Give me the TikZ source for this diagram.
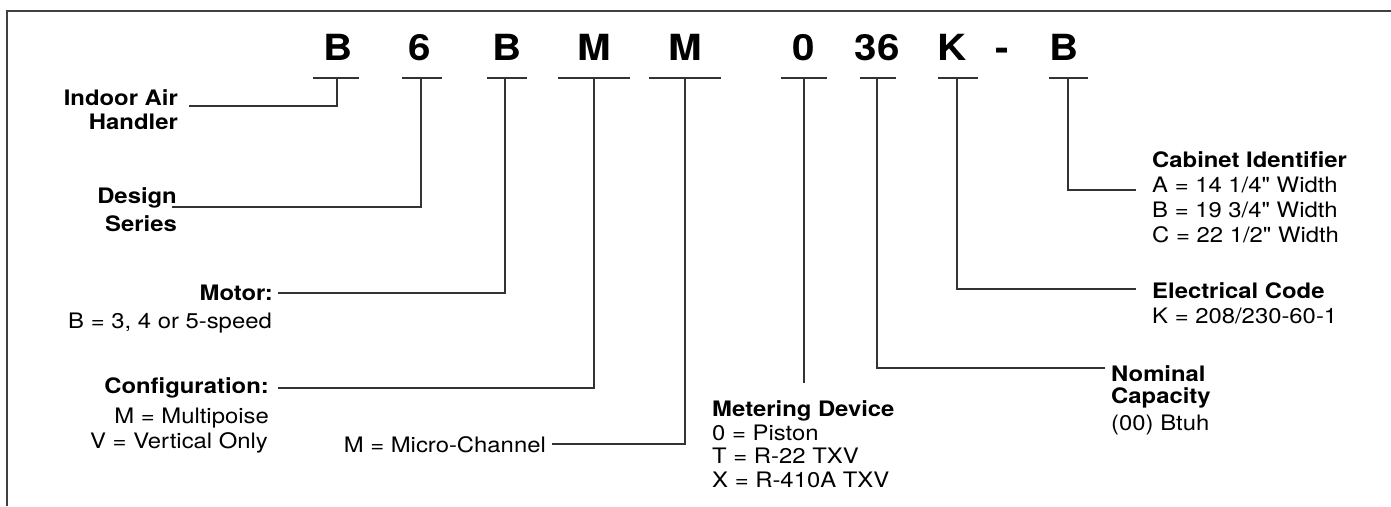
\documentclass[tikz,border=0pt]{standalone}
\usepackage{fontspec}
\newfontfamily\hv{TeX Gyre Heros}[FakeStretch=1.12]
\begin{document}
\begin{tikzpicture}[x=1pt,y=-1pt,
  code/.style={font=\hv\fontsize{36}{40}\selectfont\bfseries, anchor=base, inner sep=0pt},
  hd/.style={font=\hv\fontsize{21.3}{24}\selectfont\bfseries, inner sep=0pt},
  vl/.style={font=\hv\fontsize{21.3}{24}\selectfont, inner sep=0pt},
  bar/.style={line width=1.3pt, draw=black!80},
  lead/.style={line width=1.3pt, draw=black!80},
  frame/.style={line width=2pt, draw=black!75}]
\useasboundingbox (0,0) rectangle (1391,506);
% frame
\coordinate (fr) at (1391,11);
\coordinate (fc) at (7,11);
\coordinate (fb) at (7,506);
\draw[frame] (fr) -- (fc) -- (fb);
% code letters
\node[code] (c1) at (338,60) {B};
\node[code] (c2) at (420,60) {6};
\node[code] (c3) at (507,60) {B};
\node[code] (c4) at (594,60) {M};
\node[code] (c5) at (685,60) {M};
\node[code] (c6) at (804,60) {0};
\node[code] (c7) at (877,60) {36};
\node[code] (c8) at (952,60) {K};
\node[code] (c9) at (1002,60) {-};
\node[code] (c10) at (1064,60) {B};
% underlines
\foreach \n/\a/\b in {1/313/359, 2/402/442, 3/487/527, 4/558/630, 5/649/721, 6/781/827, 7/860/896, 8/938/978, 9/1049/1088}{
  \coordinate (ua\n) at (\a,78);
  \coordinate (ub\n) at (\b,78);
  \draw[bar] (ua\n) -- (ub\n);
}
% connector tops
\coordinate (t1) at (337,78);
\coordinate (t2) at (421,78);
\coordinate (t3) at (505,78);
\coordinate (t4) at (594,78);
\coordinate (t5) at (685,78);
\coordinate (t6) at (804,78);
\coordinate (t7) at (877,78);
\coordinate (t8) at (957,78);
\coordinate (t9) at (1068,78);
% connector ends
\coordinate (e1) at (189,106);
\coordinate (e2) at (172,207);
\coordinate (e3) at (278,293);
\coordinate (e4) at (278,388);
\coordinate (e5) at (552,444);
\coordinate (e6) at (804,383);
\coordinate (e7) at (1105,368);
\coordinate (e8) at (1136,289);
\coordinate (e9) at (1136,190);
\draw[lead] (t1) |- (e1);
\draw[lead] (t2) |- (e2);
\draw[lead] (t3) |- (e3);
\draw[lead] (t4) |- (e4);
\draw[lead] (t5) |- (e5);
\draw[lead] (t6) -- (e6);
\draw[lead] (t7) |- (e7);
\draw[lead] (t8) |- (e8);
\draw[lead] (t9) |- (e9);
% labels left
\node[hd, anchor=base east] (l1a) at (178,105) {Indoor Air};
\node[hd, anchor=base east] (l1b) at (178,129) {Handler};
\node[hd, anchor=base east] (l2a) at (177,203) {Design};
\node[hd, anchor=base east] (l2b) at (177,231) {Series};
\node[hd, anchor=base east] (l3a) at (273,300) {Motor:};
\node[vl, anchor=base east] (l3b) at (272,328) {B = 3, 4 or 5-speed};
\node[hd, anchor=base east] (l4a) at (269,393) {Configuration:};
\node[vl, anchor=base east] (l4b) at (269,423) {M = Multipoise};
\node[vl, anchor=base east] (l4c) at (268,448) {V = Vertical Only};
\node[vl, anchor=base east] (l5a) at (546,452) {M = Micro-Channel};
% labels right
\node[hd, anchor=base west] (l6a) at (712,416) {Metering Device};
\node[vl, anchor=base west] (l6b) at (712,440) {0 = Piston};
\node[vl, anchor=base west] (l6c) at (712,463) {T = R-22 TXV};
\node[vl, anchor=base west] (l6d) at (712,487) {X = R-410A TXV};
\node[hd, anchor=base west] (l7a) at (1111,381) {Nominal};
\node[hd, anchor=base west] (l7b) at (1111,403) {Capacity};
\node[vl, anchor=base west] (l7c) at (1111,430) {(00) Btuh};
\node[hd, anchor=base west] (l8a) at (1152,298) {Electrical Code};
\node[vl, anchor=base west] (l8b) at (1152,323) {K = 208/230-60-1};
\node[hd, anchor=base west] (l9a) at (1152,167) {Cabinet Identifier};
\node[vl, anchor=base west] (l9b) at (1152,192) {A = 14 1/4" Width};
\node[vl, anchor=base west] (l9c) at (1152,217) {B = 19 3/4" Width};
\node[vl, anchor=base west] (l9d) at (1152,242) {C = 22 1/2" Width};
\end{tikzpicture}
\end{document}
